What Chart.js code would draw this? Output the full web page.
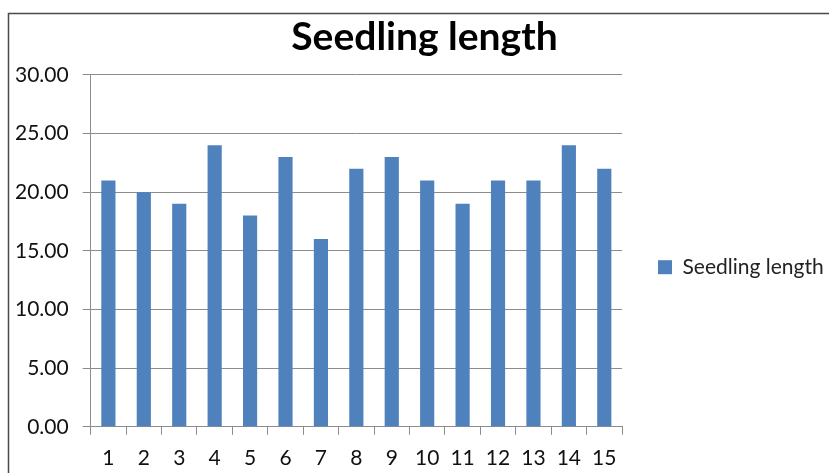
<!DOCTYPE html>
<html>
<head>
<meta charset="utf-8">
<script src="https://cdn.jsdelivr.net/npm/chart.js@4"></script>
<style>
  html, body { margin: 0; padding: 0; background: #fff; }
  #wrap { width: 829px; height: 473px; position: relative; }
</style>
</head>
<body>
<div id="wrap"><canvas id="myChart" width="829" height="473"></canvas></div>
<script>
// chart data
var categories = ["1","2","3","4","5","6","7","8","9","10","11","12","13","14","15"];
var seedlingLength = [21, 20, 19, 24, 18, 23, 16, 22, 23, 21, 19, 21, 21, 24, 22];
var seriesName = "Seedling length";
var yTicks = [0, 5, 10, 15, 20, 25, 30];

var fontFamily = "Lato, 'Open Sans', sans-serif";

// frame around the chart (top and left edges visible)
var framePlugin = {
    id: 'frame',
    beforeDraw: function(chart) {
        var c = chart.ctx;
        c.save();
        c.strokeStyle = '#4a4a4a';
        c.lineWidth = 1.5;
        c.beginPath();
        c.moveTo(8.5, 473);
        c.lineTo(8.5, 13.5);
        c.lineTo(829, 13.5);
        c.stroke();
        c.restore();
    }
};

var ctx = document.getElementById('myChart');
var chart = new Chart(ctx, {
    type: 'bar',
    data: {
        labels: categories,
        datasets: [{
            label: seriesName,
            backgroundColor: '#4F81BD',
            borderWidth: 0,
            data: seedlingLength,
            barPercentage: 0.4,
            categoryPercentage: 1.0
        }]
    },
    options: {
        responsive: false,
        animation: false,
        layout: {
            padding: { left: 1, right: 0, top: 0, bottom: -9 }
        },
        plugins: {
            title: {
                display: true,
                // leading spaces nudge the centred title a bit to the right
                text: '\u00A0\u00A0Seedling length',
                color: '#000',
                font: { family: fontFamily, size: 39, weight: 'bold' },
                padding: { top: 14, bottom: 14 }
            },
            legend: {
                position: 'right',
                maxWidth: 207,
                title: {
                    display: true,
                    text: '',
                    padding: { top: 38, bottom: 0 }
                },
                labels: {
                    color: '#222',
                    font: { family: fontFamily, size: 21 },
                    boxWidth: 14,
                    boxHeight: 14,
                    padding: 36
                }
            },
            tooltip: { enabled: false }
        },
        scales: {
            x: {
                grid: {
                    offset: true,
                    drawOnChartArea: false,
                    drawTicks: true,
                    tickLength: 8,
                    color: '#8c8c8c'
                },
                border: { color: '#8c8c8c' },
                ticks: {
                    color: '#111',
                    font: { family: fontFamily, size: 21 },
                    padding: 11,
                    maxRotation: 0
                }
            },
            y: {
                min: 0,
                max: 30,
                afterBuildTicks: function(axis) {
                    axis.ticks = yTicks.map(function(v) { return { value: v }; });
                },
                grid: {
                    color: '#8c8c8c',
                    tickLength: 8
                },
                border: { color: '#8c8c8c' },
                ticks: {
                    color: '#111',
                    font: { family: fontFamily, size: 21 },
                    padding: 14,
                    callback: function(v) { return Number(v).toFixed(2); }
                }
            }
        }
    },
    plugins: [framePlugin]
});
</script>
</body>
</html>
